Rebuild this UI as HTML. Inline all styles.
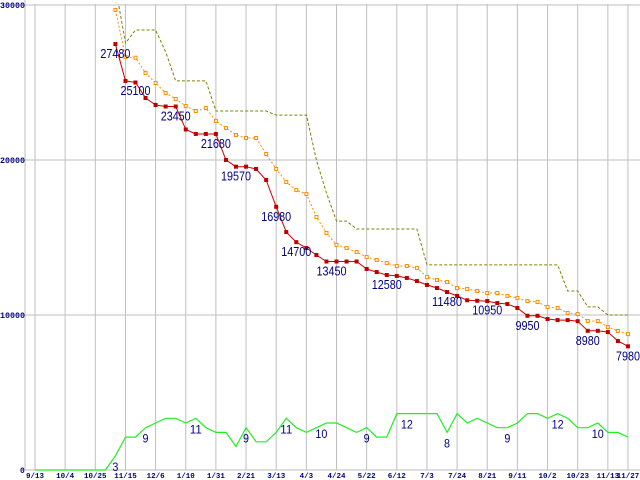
<!DOCTYPE html>
<html><head><meta charset="utf-8"><style>
html,body{margin:0;padding:0;background:#fff;width:640px;height:480px;overflow:hidden}
svg{display:block}
</style></head><body>
<svg id="chart" width="640" height="480" viewBox="0 0 640 480" xmlns="http://www.w3.org/2000/svg">
<defs><clipPath id="plotclip"><rect x="25" y="4" width="615" height="468"/></clipPath></defs>
<g id="grid"></g>
<g id="series" clip-path="url(#plotclip)"></g>
<g id="labels"></g>
<g id="axes"></g>
</svg>
<script>
const xTickIdx = [0,3,6,9,12,15,18,21,24,27,30,33,36,39,42,45,48,51,54,57,59];
const xTickLabels = ["9/13","10/4","10/25","11/15","12/6","1/10","1/31","2/21","3/13","4/3","4/24","5/22","6/12","7/3","7/24","8/21","9/11","10/2","10/23","11/13","11/27"];
const yTicks = [0,10000,20000,30000];
const yTickLabels = ["0","10000","20000","30000"];
const redStart = 8;
const redValues = [27480,25100,25000,24000,23550,23450,23450,21970,21680,21680,21680,20000,19570,19570,19420,18710,16980,15350,14700,14320,13870,13450,13450,13450,13450,12970,12770,12580,12520,12390,12190,11940,11740,11480,11230,10950,10920,10900,10770,10710,10450,9950,9950,9740,9670,9670,9600,8980,8980,8900,8320,7980];
const orangeValues = [29680,26650,26600,25610,24970,24320,23940,23480,23160,23350,22520,22060,21610,21420,21420,20390,19420,18580,18060,17810,16320,15290,14520,14320,14060,13740,13550,13350,13160,13160,13030,12450,12260,12130,11740,11680,11550,11420,11420,11230,11100,10900,10840,10520,10450,10130,10060,9610,9610,9230,8970,8770];
const oliveValues = [31200,27550,28390,28390,28390,26970,25100,25100,25100,25100,23160,23160,23160,23160,23160,23160,22900,22900,22900,22900,20000,17870,16060,16060,15550,15550,15550,15550,15550,15550,15550,13230,13230,13230,13230,13230,13230,13230,13230,13230,13230,13230,13230,13230,13230,11550,11550,10520,10520,10000,10000,10000];
const greenValues = [0,0,0,0,0,0,0,0,3,7,7,9,10,11,11,10,11,9,8,8,5,9,6,6,8,11,9,8,9,10,10,9,8,9,7,7,12,12,12,12,12,8,12,10,11,10,9,9,10,12,12,11,12,11,9,9,10,8,8,7];
const labelIdx = [8,10,14,18,20,24,26,29.5,35,41,45,49,55,59];
const labelText = ["27480","25100","23450","21680","19570","16980","14700","13450","12580","11480","10950","9950","8980","7980"];
const gLabelIdx = [8,11,16,21,25,28.5,33,37,41,47,52,56];
const gLabelText = ["3","9","11","9","11","10","9","12","8","9","12","10"];

const NS="http://www.w3.org/2000/svg";
function X(i){return 35+i*10.05;}
function Y(v){return 470-v*0.0155;}
function GY(v){return 470-v*4.7;}
function mk(tag,attrs,parent){const e=document.createElementNS(NS,tag);for(const k in attrs)e.setAttribute(k,attrs[k]);parent.appendChild(e);return e;}
const grid=document.getElementById('grid'),series=document.getElementById('series'),labels=document.getElementById('labels'),axes=document.getElementById('axes');

yTicks.forEach((v,k)=>{
  const l=mk('line',{x1:25,x2:640,y1:Y(v),y2:Y(v),stroke:'#bfbfbf','stroke-width':1},grid);
  
  
  const t=mk('text',{x:k===0?20:0,y:Math.max(Y(v)+3,7),'font-family':'Liberation Mono, monospace','font-size':8,'font-weight':'bold',fill:'#000080'},axes);
  if(k>0){t.setAttribute('textLength',25);t.setAttribute('lengthAdjust','spacingAndGlyphs');}
  t.textContent=yTickLabels[k];
  
  
});
mk('line',{x1:25,x2:25,y1:0,y2:470,stroke:'#bfbfbf','stroke-width':1},grid);
xTickIdx.forEach((i,k)=>{
  const l=mk('line',{x1:X(i),x2:X(i),y1:4,y2:470,stroke:'#bfbfbf','stroke-width':1},grid);
  
  
  const t=mk('text',{x:X(i),y:478,'text-anchor':'middle','font-family':'Liberation Mono, monospace','font-size':7.5,'font-weight':'bold',fill:'#000080'},axes);
  t.textContent=xTickLabels[k];
  
  
});

function pts(vals,start,fy){return vals.map((v,j)=>X(start+j).toFixed(1)+','+fy(v).toFixed(1)).join(' ');}
const ol=mk('polyline',{points:pts(oliveValues,redStart,Y),fill:'none',stroke:'#808000','stroke-width':1,'stroke-dasharray':'3,2'},series);


const gl=mk('polyline',{points:pts(greenValues,0,GY),fill:'none',stroke:'#22ee22','stroke-width':1.2},series);


const orl=mk('polyline',{points:pts(orangeValues,redStart,Y),fill:'none',stroke:'#ff8c00','stroke-width':1,'stroke-dasharray':'2,2'},series);


orangeValues.forEach((v,j)=>{
  const r=mk('rect',{x:X(redStart+j)-1.5,y:Y(v)-1.5,width:3,height:3,fill:'#fff',stroke:'#ff8c00','stroke-width':1},series);
  
  
});
const rl=mk('polyline',{points:pts(redValues,redStart,Y),fill:'none',stroke:'#cc0000','stroke-width':1},series);


redValues.forEach((v,j)=>{
  const r=mk('rect',{x:X(redStart+j)-2,y:Y(v)-2,width:4,height:4,fill:'#bb0000'},series);
  
  
});
labelIdx.forEach((i,k)=>{
  const v=+labelText[k];
  const t=mk('text',{x:X(i),y:Y(v)+14,'text-anchor':'middle','font-family':'Liberation Sans, sans-serif','font-size':13,fill:'#000080',textLength:labelText[k].length*6,lengthAdjust:'spacingAndGlyphs'},labels);
  t.textContent=labelText[k];
  
  
});
gLabelIdx.forEach((i,k)=>{
  const v=+gLabelText[k];
  const t=mk('text',{x:X(i),y:GY(v)+15,'text-anchor':'middle','font-family':'Liberation Sans, sans-serif','font-size':12,fill:'#000080',textLength:gLabelText[k].length*6,lengthAdjust:'spacingAndGlyphs'},labels);
  t.textContent=gLabelText[k];
  
  
});
</script>
</body></html>
